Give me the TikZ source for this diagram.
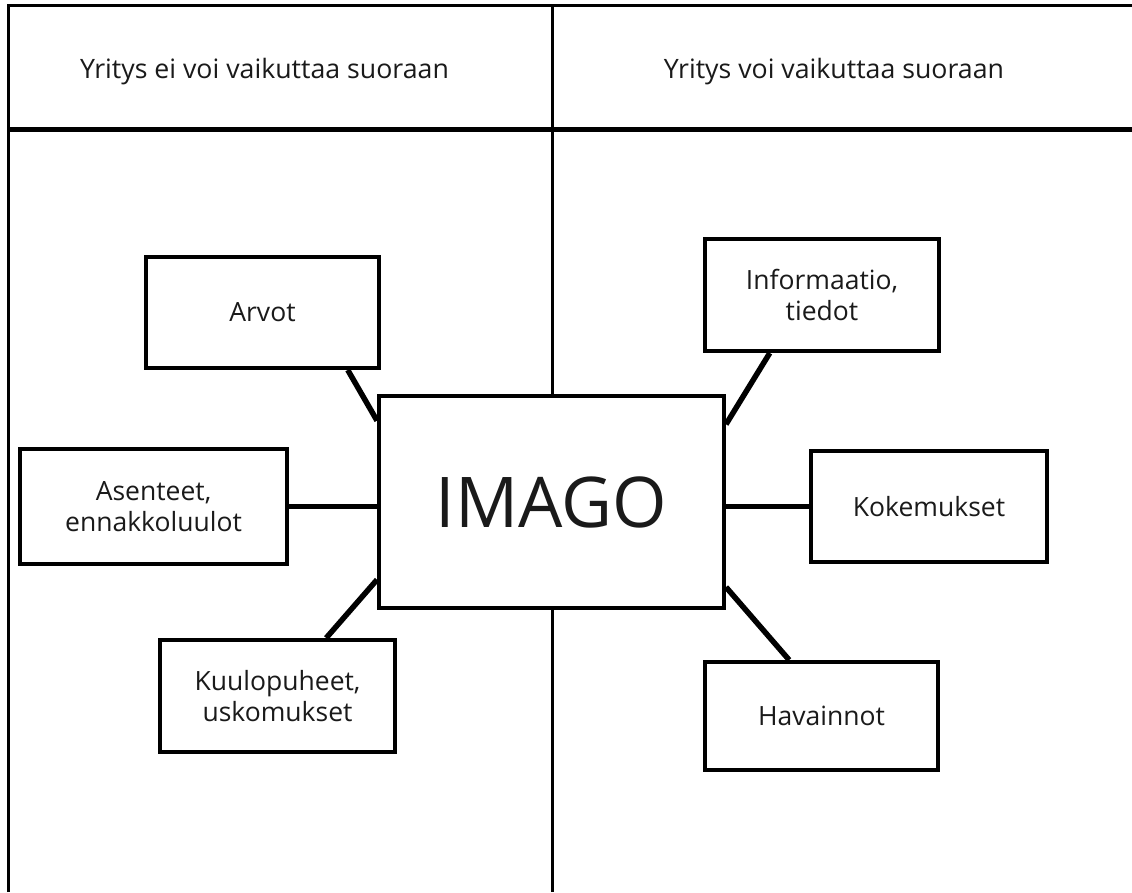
\documentclass[tikz,border=0pt]{standalone}
\usepackage{fontspec}
\setmainfont{Open Sans}
\usetikzlibrary{calc}
\definecolor{txt}{HTML}{1A1A1A}
\tikzset{
  frameline/.style={line width=3pt, black},
  headline/.style={line width=5pt, black},
  box/.style={draw=black, line width=4pt, fill=white, text=txt, align=center,
    inner sep=0pt, font=\fontsize{26.5}{31}\selectfont},
  conn/.style={line width=5.5pt, black},
  headtext/.style={text=txt, inner sep=0pt, font=\fontsize{26.7}{31}\selectfont}
}
\begin{document}
\begin{tikzpicture}[x=1pt,y=-1pt]
\useasboundingbox (0,0) rectangle (1132,892);
\fill[white] (0,0) rectangle (1132,892);
% frame
\coordinate (tl) at (8,5);
\coordinate (tr) at (1132,5);
\coordinate (bl) at (8,892);
\coordinate (hl) at (8,129);
\coordinate (hr) at (1132,129);
\coordinate (mt) at (552,5);
\coordinate (mb) at (552,892);
\draw[frameline] (bl) -- (tl) -- (tr);
\draw[headline] (hl) -- (hr);
\draw[frameline] (mt) -- (mb);
% header texts
\node[headtext] (hleft) at (264.5,72) {Yritys ei voi vaikuttaa suoraan};
\node[headtext] (hright) at (834,72) {Yritys voi vaikuttaa suoraan};
% boxes
\node[box, minimum width=345pt, minimum height=212pt, font=\fontsize{70}{80}\selectfont] (imago) at (551.5,502) {IMAGO};
\node[box, minimum width=233pt, minimum height=111pt] (arvot) at (262.5,312.5) {Arvot};
\node[box, minimum width=267pt, minimum height=115pt] (asenteet) at (153.5,506.5) {Asenteet,\\ennakkoluulot};
\node[box, minimum width=235pt, minimum height=112pt] (kuulo) at (277.5,696) {Kuulopuheet,\\uskomukset};
\node[box, minimum width=234pt, minimum height=112pt] (info) at (822,295) {Informaatio,\\tiedot};
\node[box, minimum width=236pt, minimum height=111pt] (koke) at (929,506.5) {Kokemukset};
\node[box, minimum width=233pt, minimum height=108pt] (hava) at (821.5,716) {Havainnot};
% connectors
\draw[conn] (arvot.-34.6) -- (imago.155.4);
\draw[conn] (asenteet.east) -- (asenteet.east -| imago.west);
\draw[conn] (kuulo.50.9) -- (imago.204.3);
\draw[conn] (info.228.8) -- (imago.24.9);
\draw[conn] (koke.west) -- (koke.west -| imago.east);
\draw[conn] (imago.-26.2) -- (hava.120.3);
\end{tikzpicture}
\end{document}
